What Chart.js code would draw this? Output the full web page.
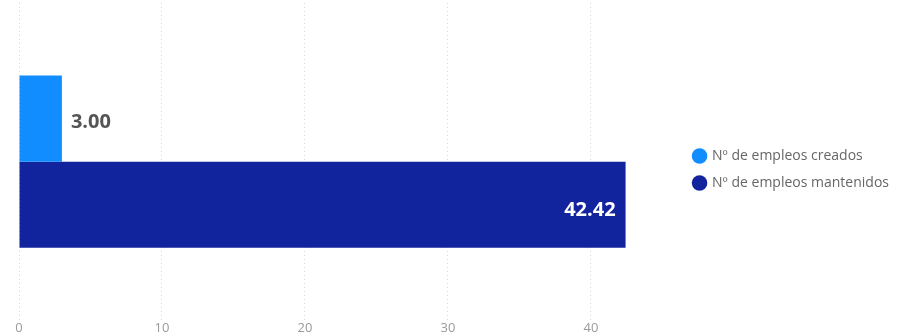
<!DOCTYPE html>
<html lang="es">
<head>
  <meta charset="utf-8" />
  <title>Empleos</title>
  <script src="https://cdn.jsdelivr.net/npm/chart.js@4.4.1/dist/chart.umd.min.js"></script>
  <style>
    * { margin: 0; padding: 0; box-sizing: border-box; }
    body { background: #ffffff; width: 899px; height: 336px; overflow: hidden; }
    .wrap { position: relative; width: 899px; height: 336px; }
  </style>
</head>
<body>
  <div class="wrap">
    <canvas id="chart"></canvas>
  </div>
  <script>
    // data
    const categories = [""];
    const seriesNames = ["Nº de empleos creados", "Nº de empleos mantenidos"];
    const creados = [3.00];
    const mantenidos = [42.42];
    const seriesColors = ["#118DFF", "#12239E"];
    const tickValues = [0, 10, 20, 30, 40];

    // value labels on each bar: outside if the bar is short, inside otherwise
    const barLabels = {
      id: "barLabels",
      afterDatasetsDraw(chart) {
        const ctx = chart.ctx;
        ctx.save();
        ctx.font = "bold 20px 'Open Sans', sans-serif";
        ctx.textBaseline = "middle";
        chart.data.datasets.forEach((ds, i) => {
          chart.getDatasetMeta(i).data.forEach((bar, j) => {
            const txt = ds.data[j].toFixed(2);
            if (bar.x - bar.base < 80) {
              ctx.fillStyle = "#555555";
              ctx.textAlign = "left";
              ctx.fillText(txt, bar.x + 9, bar.y + 4);
            } else {
              ctx.fillStyle = "#ffffff";
              ctx.textAlign = "right";
              ctx.fillText(txt, bar.x - 10, bar.y + 6);
            }
          });
        });
        ctx.restore();
      }
    };

    new Chart(document.getElementById("chart"), {
      type: "bar",
      data: {
        labels: categories,
        datasets: [
          { label: seriesNames[0], data: creados, backgroundColor: seriesColors[0] },
          { label: seriesNames[1], data: mantenidos, backgroundColor: seriesColors[1] }
        ]
      },
      options: {
        indexAxis: "y",
        responsive: true,
        maintainAspectRatio: false,
        animation: false,
        layout: { padding: { left: 19, top: 3, right: 0, bottom: 0 } },
        datasets: { bar: { categoryPercentage: 0.543, barPercentage: 1 } },
        scales: {
          x: {
            min: 0,
            max: 46.3,
            afterBuildTicks(axis) { axis.ticks = tickValues.map(v => ({ value: v })); },
            grid: { color: "#d6d6d6", lineWidth: 1, drawTicks: false },
            border: { display: false, dash: [1, 3] },
            ticks: {
              color: "#9a9a9a",
              padding: 0,
              font: { family: "'Open Sans', sans-serif", size: 13 }
            }
          },
          y: { display: false }
        },
        plugins: {
          tooltip: { enabled: false },
          legend: {
            position: "right",
            align: "center",
            labels: {
              usePointStyle: true,
              pointStyle: "circle",
              boxWidth: 11,
              boxHeight: 11,
              padding: 13,
              color: "#666666",
              font: { family: "'Open Sans', sans-serif", size: 14 }
            }
          }
        }
      },
      plugins: [barLabels]
    });
  </script>
</body>
</html>
